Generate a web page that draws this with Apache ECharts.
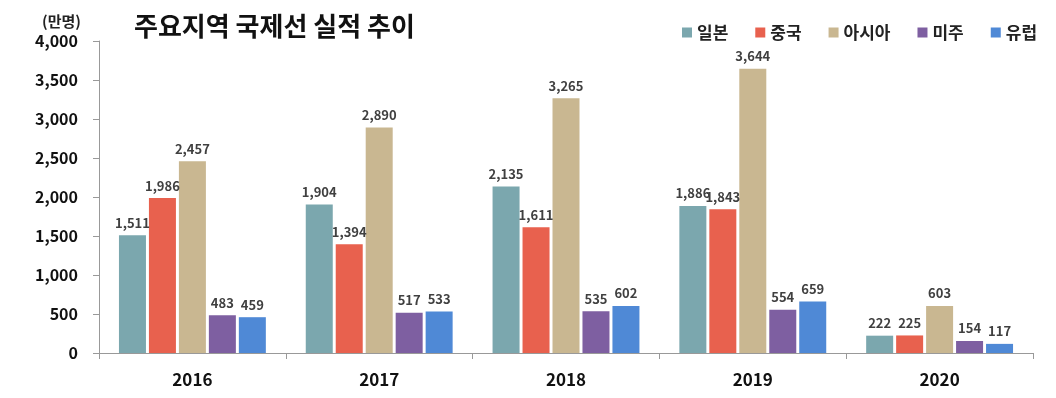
<!DOCTYPE html>
<html>
<head>
<meta charset="utf-8">
<script src="https://cdn.jsdelivr.net/npm/echarts@6/dist/echarts.min.js"></script>
<style>
html,body{margin:0;padding:0;background:#fff;}
#main{width:1056px;height:398px;}
</style>
</head>
<body>
<div id="main"></div>
<script>
var years = ['2016', '2017', '2018', '2019', '2020'];
var seriesNames = ['일본', '중국', '아시아', '미주', '유럽'];
var japan = [1511, 1904, 2135, 1886, 222];
var china = [1986, 1394, 1611, 1843, 225];
var asia = [2457, 2890, 3265, 3644, 603];
var america = [483, 517, 535, 554, 154];
var europe = [459, 533, 602, 659, 117];
var colors = ['#7BA7AE', '#E8614E', '#C9B791', '#7E5FA1', '#4F89D6'];

var font = '"Noto Sans CJK KR", "Malgun Gothic", sans-serif';
var chart = echarts.init(document.getElementById('main'));

function fmt(v){
	return v.toString().replace(/\B(?=(\d{3})+(?!\d))/g, ',');
}

var values = [japan, china, asia, america, europe];
var series = [];
for(var i=0;i<values.length;i++){
	series.push({
		name: seriesNames[i],
		type: 'bar',
		data: values[i],
		barWidth: 27,
		barGap: '11%',
		itemStyle: { color: colors[i] },
		label: {
			show: true,
			position: 'top',
			distance: 6,
			color: '#404040',
			fontFamily: font,
			fontWeight: 'bold',
			fontSize: 13,
			formatter: function(p){ return fmt(p.value); }
		}
	});
}

var option = {
	backgroundColor: '#fff',
	animation: false,
	title: [{
		text: '주요지역 국제선 실적 추이',
		left: 129,
		top: 8,
		textStyle: { fontFamily: font, fontWeight: 'bold', fontSize: 26, color: '#111' }
	}, {
		text: '(만명)',
		left: 37,
		top: 9,
		textStyle: { fontFamily: font, fontWeight: 'bold', fontSize: 15, color: '#222' }
	}],
	legend: {
		left: 677,
		top: 19,
		itemWidth: 10,
		itemHeight: 10,
		itemGap: 27,
		icon: 'rect',
		textStyle: { fontFamily: font, fontWeight: 'bold', fontSize: 17, color: '#222' },
		data: seriesNames
	},
	grid: { left: 99, right: 23, top: 41, bottom: 45 },
	xAxis: {
		type: 'category',
		data: years,
		axisLine: { lineStyle: { color: '#999' } },
		axisTick: { show: true, length: 6, lineStyle: { color: '#999' } },
		axisLabel: { fontFamily: font, fontWeight: 'bold', fontSize: 17, color: '#111', margin: 18 }
	},
	yAxis: {
		type: 'value',
		min: 0,
		max: 4000,
		interval: 500,
		splitLine: { show: false },
		axisLine: { show: true, lineStyle: { color: '#999' } },
		axisTick: { show: true, length: 6, lineStyle: { color: '#999' } },
		axisLabel: { fontFamily: font, fontWeight: 'bold', fontSize: 16, color: '#111', margin: 21,
			formatter: function(v){ return fmt(v); } }
	},
	series: series
};

chart.setOption(option);
</script>
</body>
</html>
